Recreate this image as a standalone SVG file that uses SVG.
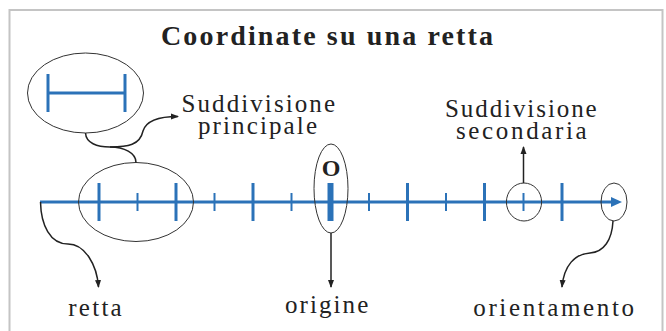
<svg xmlns="http://www.w3.org/2000/svg" width="666" height="331" viewBox="0 0 666 331">
<defs>
<marker id="ah" viewBox="0 0 8 8" refX="7" refY="4" markerWidth="8" markerHeight="8" markerUnits="userSpaceOnUse" orient="auto">
<path d="M0,1 L8,4 L0,7 Z" fill="#222"/>
</marker>
</defs>
<style>
.ax{stroke:#2b72b8;fill:none;}
.maj{stroke:#2b72b8;stroke-width:3;}
.min{stroke:#2b72b8;stroke-width:2;}
.ell{fill:none;stroke:#333;stroke-width:1;}
.con{fill:none;stroke:#222;stroke-width:1.5;}
</style>
<rect x="0" y="0" width="666" height="331" fill="#fff"/>
<rect x="9.5" y="10" width="653" height="340" fill="none" stroke="#c4c4c4" stroke-width="2"/>
<g font-family="'Liberation Serif', 'Times New Roman', serif" fill="#222">
<text x="161" y="44.5" font-size="28" font-weight="bold" textLength="332" lengthAdjust="spacing">Coordinate su una retta</text>
</g>

<g id="axis">
<line class="ax" x1="40" y1="202" x2="614" y2="202" stroke-width="3"/>
<polygon points="611,197 622,202 611,207" fill="#2b72b8"/>
<g id="ticks">
<line class="maj" x1="99" y1="183" x2="99" y2="221"/>
<line class="maj" x1="176" y1="183" x2="176" y2="221"/>
<line class="maj" x1="253" y1="183" x2="253" y2="221"/>
<line stroke="#2b72b8" stroke-width="6" x1="330.5" y1="183" x2="330.5" y2="221"/>
<line class="maj" x1="407.5" y1="183" x2="407.5" y2="221"/>
<line class="maj" x1="484.5" y1="183" x2="484.5" y2="221"/>
<line class="maj" x1="562" y1="183" x2="562" y2="221"/>
<line class="min" x1="137.5" y1="193" x2="137.5" y2="211"/>
<line class="min" x1="214.5" y1="193" x2="214.5" y2="211"/>
<line class="min" x1="291.5" y1="193" x2="291.5" y2="211"/>
<line class="min" x1="369" y1="193" x2="369" y2="211"/>
<line class="min" x1="446" y1="193" x2="446" y2="211"/>
<line class="min" x1="523.5" y1="193" x2="523.5" y2="211"/>
</g>
</g>

<g id="zoom">
<ellipse class="ell" cx="85.5" cy="93" rx="58" ry="40"/>
<line class="maj" x1="48" y1="74" x2="48" y2="112"/>
<line class="maj" x1="125" y1="74" x2="125" y2="112"/>
<line class="maj" x1="48" y1="93" x2="125" y2="93"/>
</g>
<g id="principale-ring"><ellipse class="ell" cx="136" cy="202" rx="57.5" ry="39.5"/></g>
<g id="origin-ring">
<ellipse class="ell" cx="331" cy="188.5" rx="17" ry="44.5"/>
<text x="331" y="175.5" font-family="'Liberation Serif', 'Times New Roman', serif" fill="#222" font-size="24" font-weight="bold" text-anchor="middle">O</text>
</g>
<g id="secondaria-ring"><ellipse class="ell" cx="524" cy="202" rx="17.6" ry="19"/></g>
<g id="orient-ring"><ellipse class="ell" cx="614" cy="202" rx="13" ry="19"/></g>

<g id="labels" font-family="'Liberation Serif', 'Times New Roman', serif" fill="#222" font-size="25">
<text x="181.5" y="111.7" textLength="153.5" lengthAdjust="spacing">Suddivisione</text>
<text x="198" y="134.3" textLength="119" lengthAdjust="spacing">principale</text>
<text x="445" y="116.7" textLength="151.7" lengthAdjust="spacing">Suddivisione</text>
<text x="456" y="139.3" textLength="130.7" lengthAdjust="spacing">secondaria</text>
<text x="68.3" y="315.7" textLength="53.4" lengthAdjust="spacing">retta</text>
<text x="285" y="313.3" textLength="83.3" lengthAdjust="spacing">origine</text>
<text x="473.3" y="315.7" textLength="160.7" lengthAdjust="spacing">orientamento</text>
</g>

<g id="connectors">
<path class="con" stroke-width="1" d="M85.5,133 C86,143 97,147 110,147 C124,147 136,153 136,162.5"/>
<path class="con" d="M110,147 C128,147 140,145 143,131 C146,121 160,116.5 178,116.5" marker-end="url(#ah)"/>
<path class="con" d="M523.5,183 L523.5,147" marker-end="url(#ah)"/>
<path class="con" d="M331,233 L331,287" marker-end="url(#ah)"/>
<path class="con" d="M40.5,202 C41,225 50,244 68,244 C85,244 97,265 98.5,287" marker-end="url(#ah)"/>
<path class="con" d="M613,221 C612,240 604,252 590,253 C575,254 564,265 562,287" marker-end="url(#ah)"/>
</g>
</svg>
